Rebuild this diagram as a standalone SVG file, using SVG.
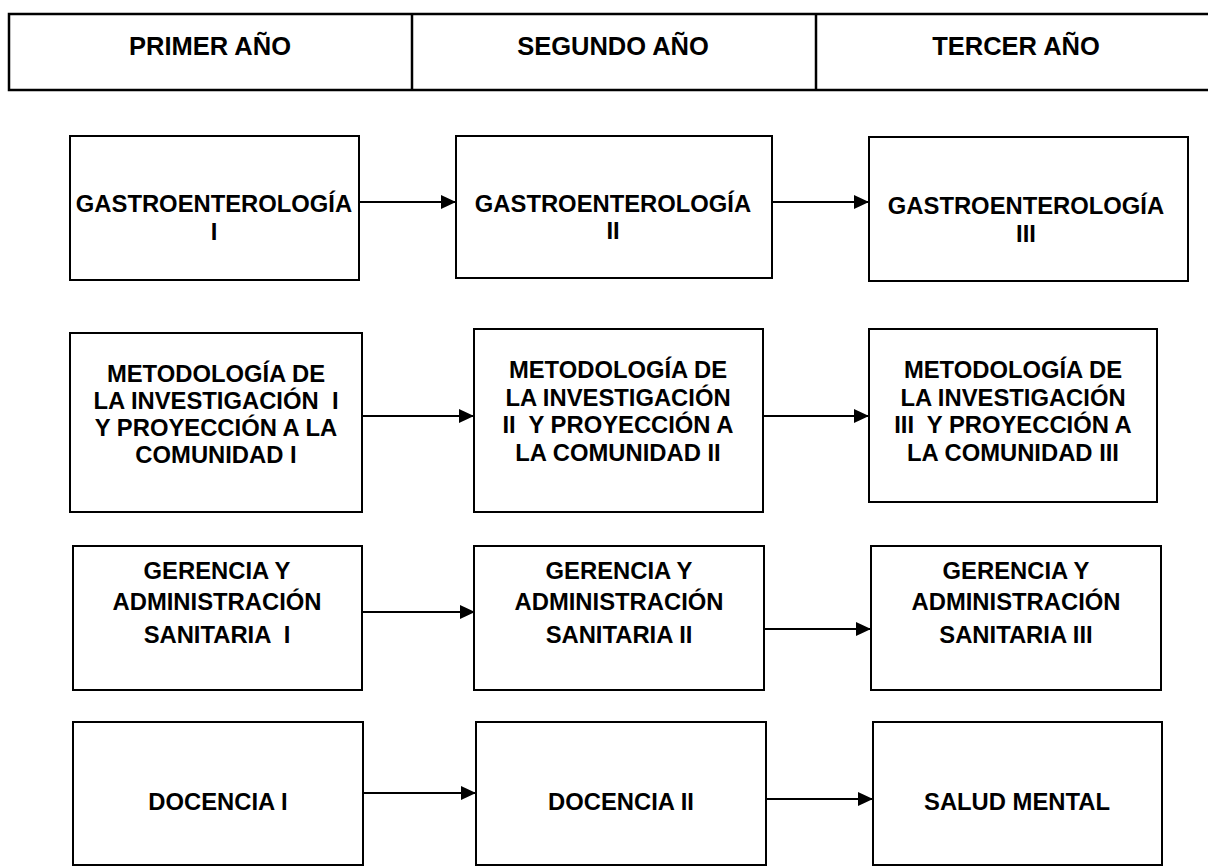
<svg xmlns="http://www.w3.org/2000/svg" width="1208" height="868" viewBox="0 0 1208 868">
<style>
.box{fill:#fff;stroke:#000;stroke-width:2}
.hdr{fill:none;stroke:#000;stroke-width:2.5}
text{font-family:"Liberation Sans",Arial,sans-serif;font-weight:bold;fill:#000;text-anchor:middle;white-space:pre}
.h{font-size:25.5px}
.n{font-size:23.8px}
.c{stroke:#000;stroke-width:2.2;fill:none}
</style>
<defs>
<marker id="ah" markerUnits="userSpaceOnUse" markerWidth="16" markerHeight="14" refX="15" refY="7" orient="auto">
<path d="M0,0 L15,7 L0,14 Z" fill="#000"/>
</marker>
</defs>
<g id="header">
<rect class="hdr" x="9" y="14" width="1207" height="76"/>
<line class="hdr" x1="412" y1="14" x2="412" y2="90"/>
<line class="hdr" x1="816" y1="14" x2="816" y2="90"/>
<text class="h" x="210" y="55">PRIMER AÑO</text>
<text class="h" x="613" y="55">SEGUNDO AÑO</text>
<text class="h" x="1016" y="55">TERCER AÑO</text>
</g>
<g id="gastro1"><rect class="box" x="70" y="136" width="289" height="144"/>
<text class="n" x="214" y="212">GASTROENTEROLOGÍA</text><text class="n" x="214" y="240">I</text></g>
<g id="gastro2"><rect class="box" x="456" y="136" width="316" height="142"/>
<text class="n" x="613" y="212">GASTROENTEROLOGÍA</text><text class="n" x="613" y="239">II</text></g>
<g id="gastro3"><rect class="box" x="869" y="137" width="319" height="144"/>
<text class="n" x="1026" y="214">GASTROENTEROLOGÍA</text><text class="n" x="1026" y="242">III</text></g>
<g id="metod1"><rect class="box" x="70" y="333" width="292" height="179"/>
<text class="n" x="216" y="382">METODOLOGÍA DE</text><text class="n" x="216" y="409">LA INVESTIGACIÓN  I</text><text class="n" x="216" y="436">Y PROYECCIÓN A LA</text><text class="n" x="216" y="463">COMUNIDAD I</text></g>
<g id="metod2"><rect class="box" x="474" y="329" width="289" height="183"/>
<text class="n" x="618" y="378">METODOLOGÍA DE</text><text class="n" x="618" y="406">LA INVESTIGACIÓN</text><text class="n" x="618" y="433">II  Y PROYECCIÓN A</text><text class="n" x="618" y="461">LA COMUNIDAD II</text></g>
<g id="metod3"><rect class="box" x="869" y="329" width="288" height="173"/>
<text class="n" x="1013" y="378">METODOLOGÍA DE</text><text class="n" x="1013" y="406">LA INVESTIGACIÓN</text><text class="n" x="1013" y="433">III  Y PROYECCIÓN A</text><text class="n" x="1013" y="461">LA COMUNIDAD III</text></g>
<g id="geren1"><rect class="box" x="73" y="546" width="289" height="144"/>
<text class="n" x="217" y="579">GERENCIA Y</text><text class="n" x="217" y="610">ADMINISTRACIÓN</text><text class="n" x="217" y="643">SANITARIA  I</text></g>
<g id="geren2"><rect class="box" x="474" y="546" width="290" height="144"/>
<text class="n" x="619" y="579">GERENCIA Y</text><text class="n" x="619" y="610">ADMINISTRACIÓN</text><text class="n" x="619" y="643">SANITARIA II</text></g>
<g id="geren3"><rect class="box" x="871" y="546" width="290" height="144"/>
<text class="n" x="1016" y="579">GERENCIA Y</text><text class="n" x="1016" y="610">ADMINISTRACIÓN</text><text class="n" x="1016" y="643">SANITARIA III</text></g>
<g id="doc1"><rect class="box" x="73" y="722" width="290" height="143"/>
<text class="n" x="218" y="810">DOCENCIA I</text></g>
<g id="doc2"><rect class="box" x="476" y="722" width="290" height="143"/>
<text class="n" x="621" y="810">DOCENCIA II</text></g>
<g id="salud"><rect class="box" x="873" y="722" width="289" height="143"/>
<text class="n" x="1017" y="810">SALUD MENTAL</text></g>
<g id="connectors">
<line class="c" x1="360" y1="202" x2="456" y2="202" marker-end="url(#ah)"/>
<line class="c" x1="773" y1="202" x2="869" y2="202" marker-end="url(#ah)"/>
<line class="c" x1="363" y1="416" x2="474" y2="416" marker-end="url(#ah)"/>
<line class="c" x1="764" y1="416" x2="869" y2="416" marker-end="url(#ah)"/>
<line class="c" x1="363" y1="612" x2="475" y2="612" marker-end="url(#ah)"/>
<line class="c" x1="765" y1="629" x2="871" y2="629" marker-end="url(#ah)"/>
<line class="c" x1="364" y1="793" x2="476" y2="793" marker-end="url(#ah)"/>
<line class="c" x1="767" y1="799" x2="873" y2="799" marker-end="url(#ah)"/>
</g>
</svg>
